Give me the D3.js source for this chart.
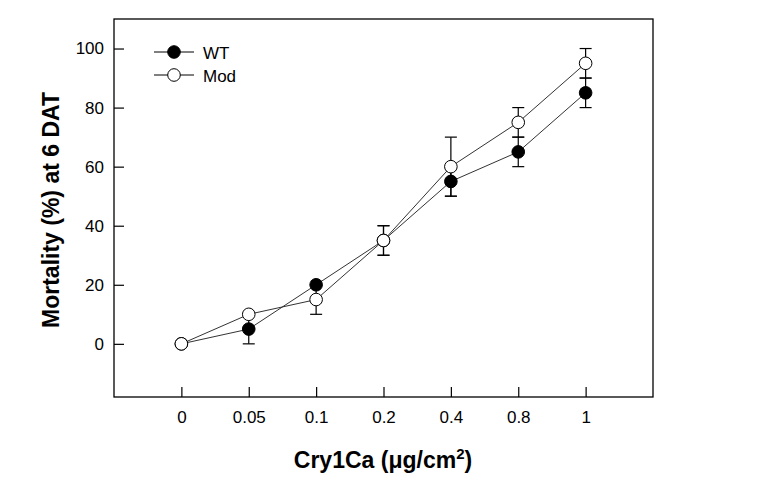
<!DOCTYPE html>
<html><head><meta charset="utf-8">
<script src="https://cdn.jsdelivr.net/npm/d3@7"></script>
<style>body{margin:0;background:#fff}svg{display:block}text{font-family:"Liberation Sans",Arial,sans-serif}</style>
</head><body>
<svg id="c" width="776" height="484"></svg>
<script>
const categories = ["0","0.05","0.1","0.2","0.4","0.8","1"];
const wtValues = [0,5,20,35,55,65,85];
const wtErrors = [0,5,0,5,5,5,5];
const modValues = [0,10,15,35,60,75,95];
const modErrors = [0,0,5,5,10,5,5];
const yTicks = [0,20,40,60,80,100];

const svg = d3.select("#c");
const L=114, R=653, T=19, B=397;
const x = d3.scaleLinear().domain([-1,7]).range([L,R]);
const y = d3.scaleLinear().domain([-18,110]).range([B,T]);

// frame
svg.append("rect").attr("x",L).attr("y",T).attr("width",R-L).attr("height",B-T)
  .attr("fill","none").attr("stroke","#000").attr("stroke-width",1.3);

// y axis
const ya = svg.append("g").attr("transform",`translate(${L},0)`)
  .call(d3.axisLeft(y).tickValues(yTicks).tickSize(-10).tickPadding(10));
ya.select(".domain").remove();
ya.selectAll("line").attr("stroke","#000").attr("stroke-width",1.2);
ya.selectAll("text").attr("font-size",17).attr("fill","#000").attr("font-family","Liberation Sans, Arial, sans-serif");

// x axis
const xa = svg.append("g").attr("transform",`translate(0,${B})`)
  .call(d3.axisBottom(x).tickValues(d3.range(categories.length)).tickFormat(i=>categories[i]).tickSize(-10).tickPadding(14));
xa.select(".domain").remove();
xa.selectAll("line").attr("stroke","#000").attr("stroke-width",1.2);
xa.selectAll("text").attr("font-size",17).attr("fill","#000").attr("font-family","Liberation Sans, Arial, sans-serif");

// titles
svg.append("text").attr("transform",`translate(59,210) rotate(-90)`)
  .attr("text-anchor","middle").attr("font-size",23).attr("font-weight","bold").text("Mortality (%) at 6 DAT");
const xt = svg.append("text").attr("x",383).attr("y",468).attr("text-anchor","middle")
  .attr("font-size",23).attr("font-weight","bold");
xt.append("tspan").text("Cry1Ca (μg/cm");
xt.append("tspan").attr("dy",-9).attr("font-size",15).text("2");
xt.append("tspan").attr("dy",9).text(")");

const line = d3.line().x((d,i)=>x(i)).y(d=>y(d));
function series(vals, errs, fill){
  svg.append("path").datum(vals).attr("d",line).attr("fill","none").attr("stroke","#333").attr("stroke-width",1);
  const g = svg.append("g");
  vals.forEach((v,i)=>{
    const e = errs[i];
    if(e>0){
      g.append("line").attr("x1",x(i)).attr("x2",x(i)).attr("y1",y(v-e)).attr("y2",y(v+e)).attr("stroke","#000").attr("stroke-width",1.2);
      [v-e,v+e].forEach(c=>g.append("line").attr("x1",x(i)-6).attr("x2",x(i)+6).attr("y1",y(c)).attr("y2",y(c)).attr("stroke","#000").attr("stroke-width",1.2));
    }
  });
  return ()=>{
    svg.append("g").selectAll("circle").data(vals).join("circle")
      .attr("cx",(d,i)=>x(i)).attr("cy",d=>y(d)).attr("r",6.3)
      .attr("fill",fill).attr("stroke","#000").attr("stroke-width",1);
  };
}
const dm1 = series(wtValues, wtErrors, "#000");
const dm2 = series(modValues, modErrors, "#fff");
dm1(); dm2();

// legend
const leg = [{label:"WT",fill:"#000",yy:52},{label:"Mod",fill:"#fff",yy:75}];
leg.forEach(d=>{
  svg.append("line").attr("x1",154).attr("x2",194).attr("y1",d.yy).attr("y2",d.yy).attr("stroke","#000").attr("stroke-width",1);
  svg.append("circle").attr("cx",174).attr("cy",d.yy).attr("r",6.3).attr("fill",d.fill).attr("stroke","#000");
  svg.append("text").attr("x",203).attr("y",d.yy+7).attr("font-size",17).text(d.label);
});
</script>
</body></html>
